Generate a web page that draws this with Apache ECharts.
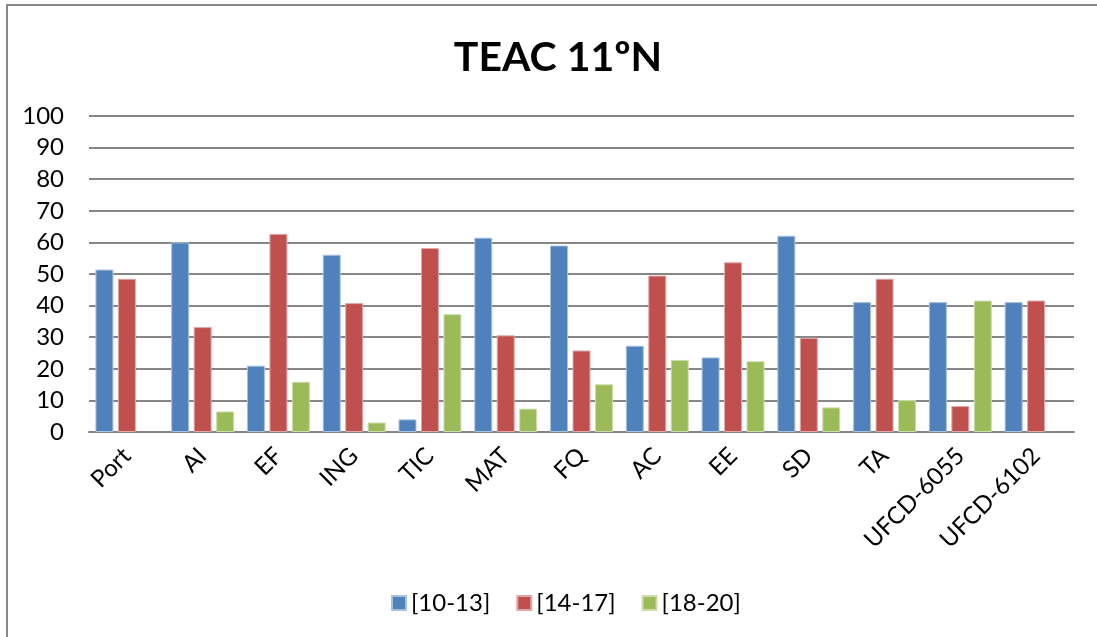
<!DOCTYPE html>
<html>
<head>
<meta charset="utf-8">
<script src="https://cdn.jsdelivr.net/npm/echarts@6/dist/echarts.min.js"></script>
<style>
html,body{margin:0;padding:0;background:#fff;}
#frame{position:absolute;left:6px;top:4px;width:1200px;height:800px;border-left:2px solid #878787;border-top:2px solid #878787;box-sizing:border-box;}
#chart{position:absolute;left:0;top:0;width:1097px;height:637px;}
</style>
</head>
<body>
<div id="frame"></div>
<div id="chart"></div>
<script>
const categories = ['Port','AI','EF','ING','TIC','MAT','FQ','AC','EE','SD','TA','UFCD-6055','UFCD-6102'];
const seriesNames = ['[10-13]','[14-17]','[18-20]'];
const s1013 = [51.4, 60.0, 21.0, 56.1, 4.0, 61.5, 59.0, 27.3, 23.6, 62.1, 41.1, 41.1, 41.1];
const s1417 = [48.5, 33.2, 62.7, 40.8, 58.2, 30.6, 25.8, 49.5, 53.7, 29.8, 48.5, 8.2, 41.6];
const s1820 = [0, 6.5, 15.9, 3.0, 37.3, 7.4, 15.1, 22.8, 22.4, 7.8, 10.1, 41.6, 0];
const yTicks = [0,10,20,30,40,50,60,70,80,90,100];
const colors = ['#4F81BD','#C0504D','#9BBB59'];
const borders = ['#A7C0DE','#DFA8A7','#CDDDAC'];

const chart = echarts.init(document.getElementById('chart'), null, {renderer:'canvas'});
const font = 'Lato, "Open Sans", sans-serif';
const data = [s1013, s1417, s1820];
chart.setOption({
  backgroundColor: 'transparent',
  animation: false,
  title: {
    text: 'TEAC 11ºN',
    left: 553, top: 32, textAlign: 'center',
    textStyle: {fontFamily: font, fontWeight: 'bold', fontSize: 41, color: '#000'}
  },
  legend: {
    data: seriesNames,
    left: 386, top: 586,
    itemWidth: 14, itemHeight: 14, itemGap: 26,
    icon: 'rect',
    textStyle: {fontFamily: font, fontSize: 24, color: '#000'}
  },
  grid: {left: 89, right: 23, top: 116, bottom: 205, containLabel: false},
  xAxis: {
    type: 'category',
    data: categories,
    axisLine: {lineStyle: {color: '#868686', width: 2}},
    axisTick: {show: false},
    axisLabel: {rotate: 45, fontFamily: font, fontSize: 24, color: '#000', margin: 20, interval: 0}
  },
  yAxis: {
    type: 'value', min: 0, max: 100, interval: 10,
    axisLine: {show: false},
    axisTick: {show: false},
    axisLabel: {fontFamily: font, fontSize: 24, color: '#000', margin: 25,
      formatter: v => yTicks.includes(v) ? String(v) : ''},
    splitLine: {lineStyle: {color: '#868686', width: 2}}
  },
  series: seriesNames.map((n, i) => ({
    name: n, type: 'bar',
    data: data[i].map(v => v === 0 ? null : v),
    barGap: '25%', barCategoryGap: '17%',
    itemStyle: {color: colors[i], borderColor: borders[i], borderWidth: 1}
  }))
});
</script>
</body>
</html>
